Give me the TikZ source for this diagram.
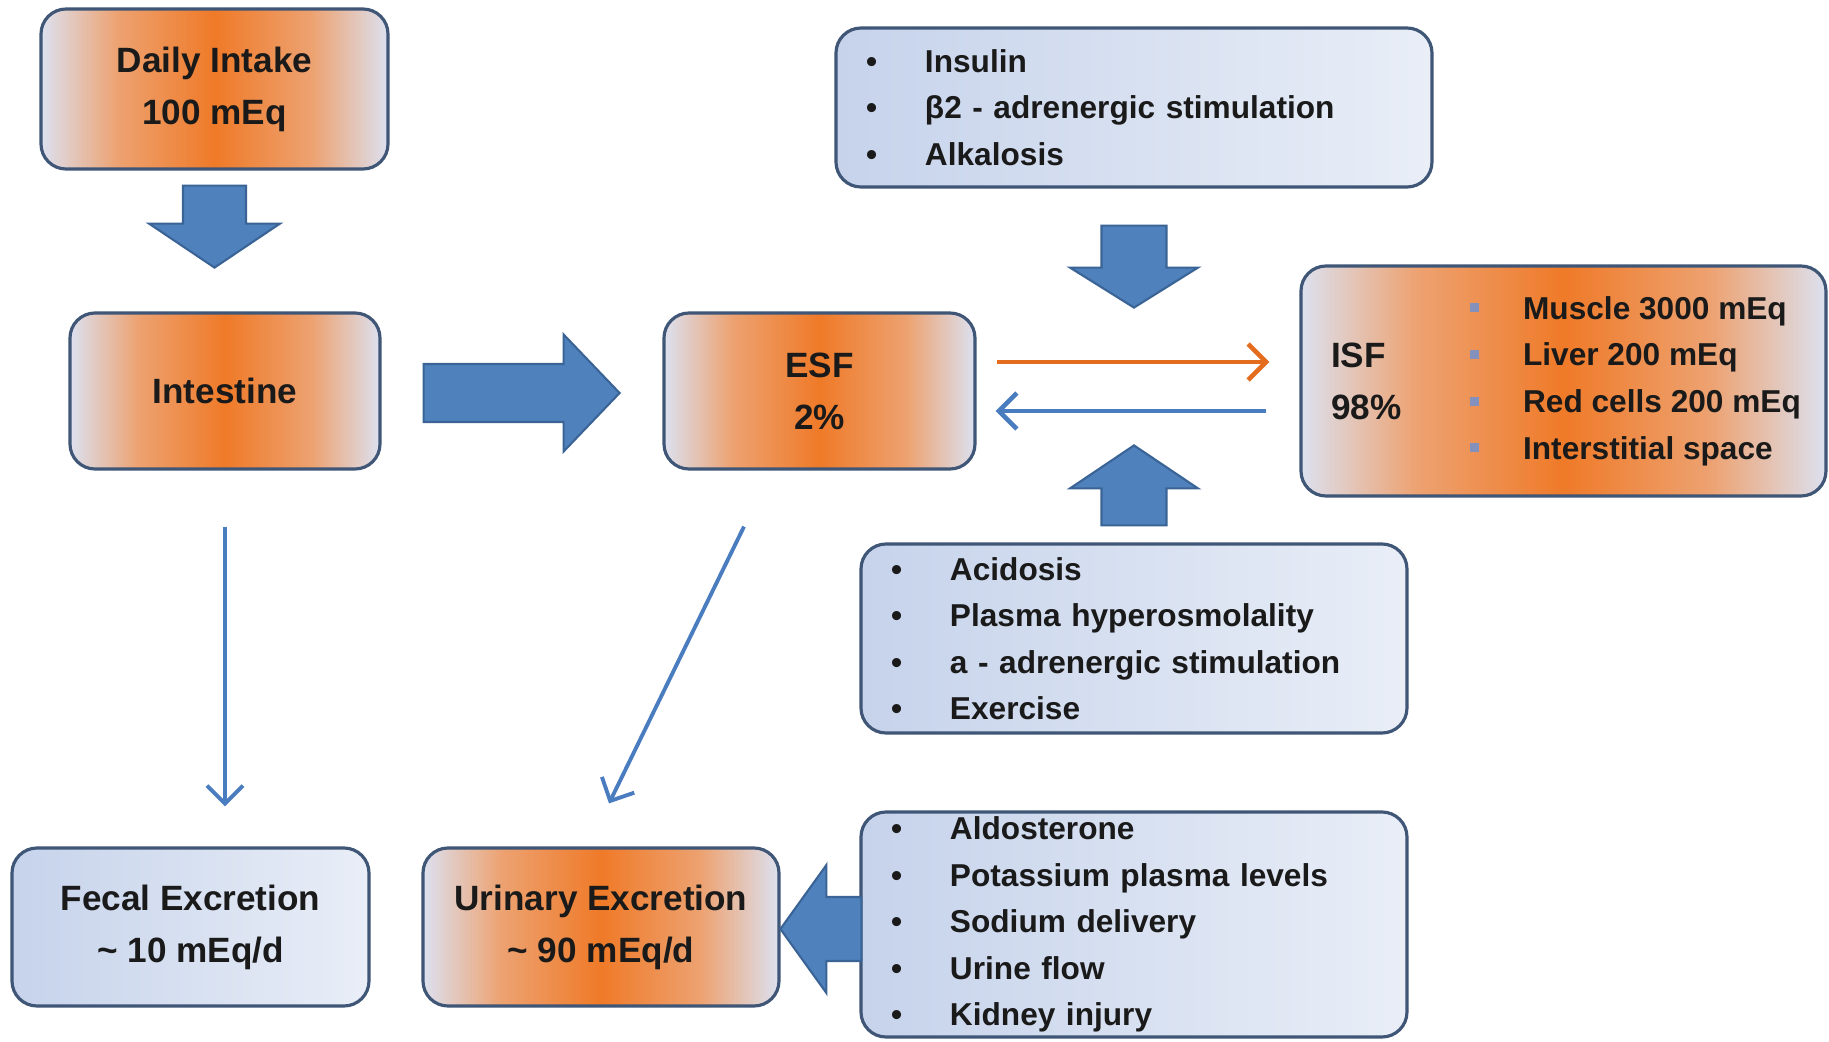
\documentclass[tikz,border=0pt]{standalone}
\usepackage{fontspec}
\setmainfont{Liberation Sans}
\usetikzlibrary{arrows.meta,calc}
\definecolor{BoxLine}{HTML}{3F5677}
\definecolor{BoxOrange}{HTML}{EF7A28}
\definecolor{BoxMid}{HTML}{EDA271}
\definecolor{BoxEdge}{HTML}{DCE1F0}
\definecolor{BoxBlueL}{HTML}{C6D3EB}
\definecolor{BoxBlueR}{HTML}{E9EEF7}
\definecolor{FatBlue}{HTML}{4F81BD}
\definecolor{FatLine}{HTML}{3B6496}
\definecolor{FlowOrange}{HTML}{E46C1E}
\definecolor{FlowBlue}{HTML}{4A7CC0}
\definecolor{TextDark}{HTML}{1A1A1A}
\definecolor{SquareBlue}{HTML}{8391BC}
\pgfdeclarehorizontalshading{orangefill}{100bp}{color(0bp)=(BoxEdge); color(25bp)=(BoxEdge); color(36bp)=(BoxMid); color(50bp)=(BoxOrange); color(64bp)=(BoxMid); color(75bp)=(BoxEdge); color(100bp)=(BoxEdge)}
\pgfdeclarehorizontalshading{bluefill}{100bp}{color(0bp)=(BoxBlueL); color(25bp)=(BoxBlueL); color(75bp)=(BoxBlueR); color(100bp)=(BoxBlueR)}
\newcommand{\itm}[1]{\makebox[0.59cm][l]{\textbullet}#1}
\newcommand{\sqitm}[1]{\makebox[0.53cm][l]{\raisebox{2pt}{\textcolor{SquareBlue}{\rule{0.09cm}{0.09cm}}}}#1}

\begin{document}
\begin{tikzpicture}[
  hubox/.style={draw=BoxLine, line width=0.9pt, rounded corners=0.25cm, shading=orangefill,
    text=TextDark, font=\bfseries\fontsize{10}{14.8}\selectfont, align=center, inner sep=0pt},
  sinkbox/.style={hubox, shading=bluefill},
  listbox/.style={draw=BoxLine, line width=0.9pt, rounded corners=0.25cm, shading=bluefill,
    text=TextDark, font=\bfseries\fontsize{9}{13.2}\selectfont, align=left, inner xsep=0.3cm, inner ysep=0pt},
  flow/.style={line width=1.3pt, -{Straight Barb[length=0.18cm, width=0.36cm]}},
  pics/fatarrow/.style n args={4}{code={
    \path[fill=FatBlue, draw=FatLine, line width=0.6pt] (0,-#3/2) -- ({#1-#2},-#3/2) -- ({#1-#2},-#4/2)
      -- (#1,0) -- ({#1-#2},#4/2) -- ({#1-#2},#3/2) -- (0,#3/2) -- cycle;
  }}
]
  \path[use as bounding box, fill=white] (0,0) rectangle (18.29,-10.42);

  \node[hubox, minimum width=3.47cm, minimum height=1.60cm] (intake) at (2.145,-0.89) {Daily Intake\\100 mEq};
  \node[hubox, minimum width=3.10cm, minimum height=1.56cm] (intestine) at (2.25,-3.91) {Intestine};
  \node[hubox, minimum width=3.11cm, minimum height=1.56cm] (esf) at (8.195,-3.91) {ESF\\2\%};
  \node[hubox, minimum width=5.25cm, minimum height=2.30cm] (isf) at (15.635,-3.81) {};
  \node[text=TextDark, font=\bfseries\fontsize{10}{14.8}\selectfont, align=left, anchor=west, inner sep=0pt]
    (isfname) at ($(isf.west)+(0.31,0)$) {ISF\\98\%};
  \node[text=TextDark, font=\bfseries\fontsize{9}{13.3}\selectfont, align=left, anchor=west, inner sep=0pt]
    (isflist) at ($(isf.west)+(1.70,0)$) {\sqitm{Muscle 3000 mEq}\\\sqitm{Liver 200 mEq}\\\sqitm{Red cells 200 mEq}\\\sqitm{Interstitial space}};
  \node[sinkbox, minimum width=3.57cm, minimum height=1.58cm] (fecal) at (1.905,-9.27) {Fecal Excretion\\\textasciitilde{} 10 mEq/d};
  \node[hubox, minimum width=3.56cm, minimum height=1.58cm] (urinary) at (6.01,-9.27) {Urinary Excretion\\\textasciitilde{} 90 mEq/d};

  \node[listbox, text width=5.36cm, minimum height=1.59cm] (uplist) at (11.34,-1.075)
    {\itm{Insulin}\\\itm{β2 - adrenergic stimulation}\\\itm{Alkalosis}};
  \node[listbox, text width=4.86cm, minimum height=1.89cm] (outlist) at (11.34,-6.385)
    {\itm{Acidosis}\\\itm{Plasma hyperosmolality}\\\itm{a - adrenergic stimulation}\\\itm{Exercise}};
  \node[listbox, text width=4.86cm, minimum height=2.25cm] (renal) at (11.34,-9.245)
    {\itm{Aldosterone}\\\itm{Potassium plasma levels}\\\itm{Sodium delivery}\\\itm{Urine flow}\\\itm{Kidney injury}};

  \pic[rotate=-90] (dn1) at ($(intake.south)+(0,-0.15)$) {fatarrow={0.82}{0.44}{0.63}{1.31}};
  \pic (rt1) at ($(intestine.east)+(0.42,-0.02)$) {fatarrow={1.96}{0.56}{0.58}{1.17}};
  \pic[rotate=-90] (dn2) at ($(uplist.south)+(0,-0.37)$) {fatarrow={0.82}{0.40}{0.65}{1.28}};
  \pic[rotate=90] (up1) at ($(outlist.north)+(0,0.17)$) {fatarrow={0.80}{0.43}{0.65}{1.28}};
  \pic[rotate=180] (lt1) at ($(renal.west)+(0.02,-0.045)$) {fatarrow={0.81}{0.46}{0.64}{1.28}};

  \draw[flow, FlowOrange, shorten <=0.20cm, shorten >=0.30cm] ([yshift=0.29cm]esf.east) -- ([yshift=0.29cm]esf.east -| isf.west);
  \draw[flow, FlowBlue, shorten <=0.33cm, shorten >=0.19cm] ([yshift=-0.20cm]esf.east -| isf.west) -- ([yshift=-0.20cm]esf.east);
  \draw[flow, FlowBlue, line width=1.1pt, shorten <=0.56cm, shorten >=0.40cm] (intestine.south) -- (intestine.south |- fecal.north);
  \draw[flow, FlowBlue, line width=1.1pt] ($(esf.south)+(-0.755,-0.56)$) -- ($(urinary.north)+(0.08,0.43)$);
\end{tikzpicture}
\end{document}
